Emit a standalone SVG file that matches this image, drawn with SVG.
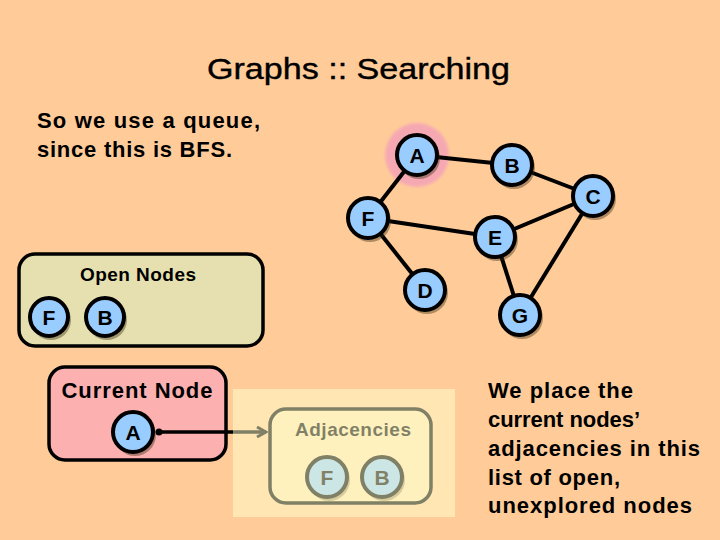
<svg xmlns="http://www.w3.org/2000/svg" width="720" height="540" viewBox="0 0 720 540">
<defs>
<filter id="soft" x="-50%" y="-50%" width="200%" height="200%"><feGaussianBlur stdDeviation="1.5"/></filter>
<marker id="chev" viewBox="0 0 12 12" refX="10" refY="6" markerWidth="12" markerHeight="12" markerUnits="userSpaceOnUse" orient="auto">
<path d="M1,1 L10,6 L1,11" fill="none" stroke="#000" stroke-width="3" stroke-linejoin="miter"/>
</marker>
</defs>
<style>
text{font-family:"Liberation Sans",Arial,sans-serif;fill:#000}
.t{font-size:29px}
.b{font-size:22px;font-weight:bold}
.lbl{font-size:19px;font-weight:bold;text-anchor:middle}
.nl{font-size:21px;font-weight:bold;text-anchor:middle}
.sh{fill:#3a2a10;opacity:.4}
.nd{fill:#99CCFF;stroke:#000;stroke-width:4}
.edge{stroke:#000;stroke-width:4;fill:none}
.box{stroke:#000;stroke-width:3.5}
</style>
<rect width="720" height="540" fill="#FFCC99"/>
<text class="t" x="207" y="79" textLength="303" lengthAdjust="spacingAndGlyphs" stroke="#000" stroke-width="0.4">Graphs :: Searching</text>
<text class="b" x="37" y="128" textLength="223" lengthAdjust="spacing">So we use a queue,</text>
<text class="b" x="37" y="157" textLength="195" lengthAdjust="spacing">since this is BFS.</text>
<g id="notes">
<text class="b" x="488" y="398" textLength="145" lengthAdjust="spacing">We place the</text>
<text class="b" x="488" y="427" textLength="152" lengthAdjust="spacing">current nodes’</text>
<text class="b" x="488" y="456" textLength="212" lengthAdjust="spacing">adjacencies in this</text>
<text class="b" x="488" y="485" textLength="132" lengthAdjust="spacing">list of open,</text>
<text class="b" x="488" y="513" textLength="204" lengthAdjust="spacing">unexplored nodes</text>
</g>
<g id="halo"><circle cx="417" cy="155" r="32" fill="#F6A8B2" filter="url(#soft)"/></g>
<g id="connectors">
<line class="edge" x1="417" y1="155" x2="512" y2="165"/>
<line class="edge" x1="417" y1="155" x2="368" y2="218"/>
<line class="edge" x1="512" y1="165" x2="593" y2="196"/>
<line class="edge" x1="593" y1="196" x2="495" y2="237"/>
<line class="edge" x1="593" y1="196" x2="520" y2="315"/>
<line class="edge" x1="368" y1="218" x2="495" y2="237"/>
<line class="edge" x1="368" y1="218" x2="425" y2="290"/>
<line class="edge" x1="495" y1="237" x2="520" y2="315"/>
</g>
<g id="node-A"><circle class="sh" cx="419" cy="158" r="21"/><circle class="nd" cx="417" cy="155" r="20"/><text class="nl" x="417" y="163">A</text></g>
<g id="node-B"><circle class="sh" cx="514" cy="168" r="21"/><circle class="nd" cx="512" cy="165" r="20"/><text class="nl" x="512" y="173">B</text></g>
<g id="node-C"><circle class="sh" cx="595" cy="199" r="21"/><circle class="nd" cx="593" cy="196" r="20"/><text class="nl" x="593" y="204">C</text></g>
<g id="node-F"><circle class="sh" cx="370" cy="221" r="21"/><circle class="nd" cx="368" cy="218" r="20"/><text class="nl" x="368" y="226">F</text></g>
<g id="node-E"><circle class="sh" cx="497" cy="240" r="21"/><circle class="nd" cx="495" cy="237" r="20"/><text class="nl" x="495" y="245">E</text></g>
<g id="node-D"><circle class="sh" cx="427" cy="293" r="21"/><circle class="nd" cx="425" cy="290" r="20"/><text class="nl" x="425" y="298">D</text></g>
<g id="node-G"><circle class="sh" cx="522" cy="318" r="21"/><circle class="nd" cx="520" cy="315" r="20"/><text class="nl" x="520" y="323">G</text></g>
<g id="open-nodes">
<rect class="box" x="19" y="254" width="244" height="92" rx="16" fill="#E6E0B0"/>
<text class="lbl" x="138" y="281" textLength="116" lengthAdjust="spacing">Open Nodes</text>
<circle class="sh" cx="51" cy="320" r="20"/><circle class="nd" cx="49" cy="317" r="19"/><text class="nl" x="49" y="325">F</text>
<circle class="sh" cx="107" cy="320" r="20"/><circle class="nd" cx="105" cy="317" r="19"/><text class="nl" x="105" y="325">B</text>
</g>
<g id="current-node">
<rect class="box" x="49" y="367" width="177" height="93" rx="16" fill="#FCB0B0"/>
<text class="b" x="137" y="398" text-anchor="middle" textLength="151" lengthAdjust="spacing">Current Node</text>
<circle class="sh" cx="135" cy="435" r="21"/><circle class="nd" cx="133" cy="432" r="20"/><text class="nl" x="133" y="440">A</text>
</g>
<g id="adjacencies">
<rect class="box" x="270" y="409" width="161" height="94" rx="16" fill="#FFE2B0"/>
<text class="lbl" x="353" y="436" textLength="116" lengthAdjust="spacing">Adjacencies</text>
<circle class="sh" cx="329" cy="480" r="21"/><circle class="nd" cx="327" cy="477" r="20"/><text class="nl" x="327" y="485">F</text>
<circle class="sh" cx="384" cy="480" r="21"/><circle class="nd" cx="382" cy="477" r="20"/><text class="nl" x="382" y="485">B</text>
</g>
<g id="link">
<line x1="158" y1="432" x2="266" y2="432" stroke="#000" stroke-width="3.5" marker-end="url(#chev)"/>
<circle cx="159" cy="432" r="3.5" fill="#000"/>
</g>
<rect id="fade" x="233" y="389" width="222" height="128" fill="#FFFFCC" opacity="0.5"/>
</svg>
